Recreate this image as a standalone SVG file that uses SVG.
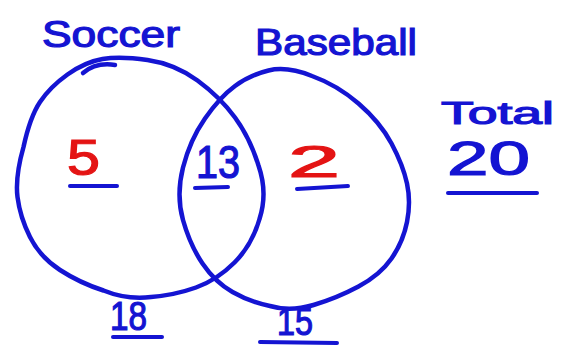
<svg xmlns="http://www.w3.org/2000/svg" width="561" height="349" viewBox="0 0 561 349">
<style>
.c{fill:none;stroke:#1414d2;stroke-width:4.5;stroke-linecap:round;stroke-linejoin:round}
.u{fill:none;stroke:#1414d2;stroke-width:4;stroke-linecap:round}
.b{fill:#1414d2;stroke:#1414d2;stroke-width:1.2;font-family:"Liberation Sans",Arial,sans-serif}
.r{fill:#e41414;stroke:#e41414;stroke-width:1.2;font-family:"Liberation Sans",Arial,sans-serif}
</style>
<rect width="561" height="349" fill="#fff"/>
<g id="connectors">
<path class="u" d="M70,186 L117,186"/>
<path class="u" d="M195,188 L228,187"/>
<path class="u" d="M297,189 L348,186"/>
<path class="u" d="M113,337 L162,337"/>
<path class="u" d="M260,342 L337,343"/>
<path class="u" d="M448,193 L537,193"/>
</g>
<g id="soccer">
<path class="c" d="M102.5,59 Q120,56 147.5,60 Q175,64 197.5,80.5 Q220,97 235,117.5 Q250,138 258.5,165.5 Q268,193 259.5,219 Q252,245 234.5,262.5 Q217,280 196,287.5 Q175,295 151,297 Q127,300 103.5,290.5 Q80,283 60,270 Q40,257 30,237 Q20,217 17.5,197 Q15,177 23.5,147 Q30,117 40,102 Q50,87 67.5,74.5 Q85,62 102.5,59 Z"/>
<path class="c" d="M83,73 Q96,62 115,65"/>
<text class="b" x="42" y="47" font-size="36" textLength="138" lengthAdjust="spacingAndGlyphs">Soccer</text>
</g>
<g id="baseball">
<path class="c" d="M268.5,70.5 Q287,66 312,76 Q337,85 358.5,103.5 Q380,122 391.5,143.5 Q403,165 407,183.5 Q411,202 407,222 Q403,242 391.5,258.5 Q380,275 358.5,286.5 Q337,298 313.5,305 Q290,312 270,306 Q250,302 232.5,292 Q215,282 202.5,263.5 Q190,245 183,220 Q176,195 183,167.5 Q190,140 205,118.5 Q220,97 235,86 Q250,75 268.5,70.5 Z"/>
<text class="b" x="255" y="55" font-size="36" textLength="162" lengthAdjust="spacingAndGlyphs">Baseball</text>
</g>
<g id="only-soccer"><text class="r" x="67" y="175" font-size="50" textLength="33" lengthAdjust="spacingAndGlyphs">5</text></g>
<g id="both"><text class="b" x="196" y="178" font-size="46" textLength="44" lengthAdjust="spacingAndGlyphs">13</text></g>
<g id="only-baseball"><text class="r" x="288" y="177" font-size="44" textLength="52" lengthAdjust="spacingAndGlyphs">2</text></g>
<g id="soccer-total"><text class="b" x="110" y="330" font-size="40" textLength="37" lengthAdjust="spacingAndGlyphs">18</text></g>
<g id="baseball-total"><text class="b" x="277" y="335" font-size="38" textLength="36" lengthAdjust="spacingAndGlyphs">15</text></g>
<g id="total">
<text class="b" x="441" y="124" font-size="32" textLength="113" lengthAdjust="spacingAndGlyphs">Total</text>
<text class="b" x="447" y="175" font-size="48" textLength="83" lengthAdjust="spacingAndGlyphs">20</text>
</g>
</svg>
